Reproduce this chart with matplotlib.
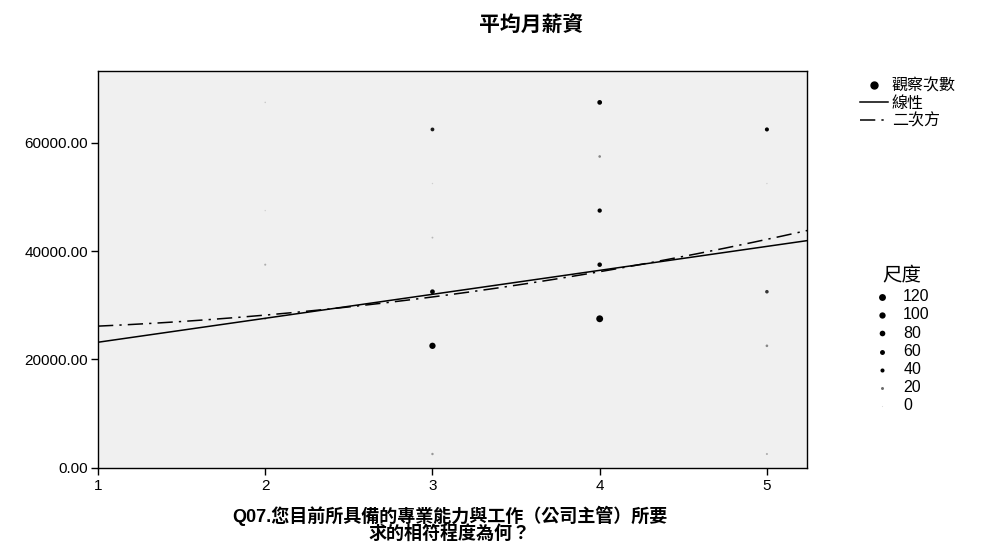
import matplotlib
matplotlib.use("Agg")
import matplotlib.pyplot as plt
import numpy as np
from matplotlib.lines import Line2D

plt.rcParams['font.family'] = ['Liberation Sans', 'Noto Sans CJK TC', 'DejaVu Sans']

# observations: (Q07 answer, salary, count)
obs_x = [2, 2, 2, 2, 3, 3, 3, 3, 3, 3, 4, 4, 4, 4, 4, 5, 5, 5, 5, 5]
obs_y = [67500, 47500, 37500, 27500, 62500, 52500, 42500, 32500, 22500, 2500,
         67500, 57500, 47500, 37500, 27500, 62500, 52500, 32500, 22500, 2500]
obs_n = [3, 2, 8, 10, 35, 2, 6, 55, 100, 12,
         55, 15, 45, 50, 120, 40, 2, 30, 15, 8]

# fitted curves (coefficients, ascending power)
lin_coef = [18730, 4430]
quad_coef = [25417, 66, 657.3]

size_levels = [120, 100, 80, 60, 40, 20, 0]


def dot_size(n):
    return 0.2 * np.asarray(n, dtype=float) + 0.6


def dot_color(n):
    g = 0.85 - 0.85 * min(1.0, n / 40.0)
    return (g, g, g)


fig = plt.figure(figsize=(9.86, 5.43), dpi=100)
ax = fig.add_axes([0.0994, 0.139, 0.7191, 0.7302])
ax.set_facecolor('#f0f0f0')

ax.scatter(obs_x, obs_y, s=dot_size(obs_n), c=[dot_color(n) for n in obs_n],
           linewidths=0, zorder=3)

xs = np.linspace(1, 5.24, 200)
ax.plot(xs, np.polyval(lin_coef[::-1], xs), color='black', lw=1.1, zorder=4)
ax.plot(xs, np.polyval(quad_coef[::-1], xs), color='black', lw=1.1,
        dashes=(10, 4, 1.5, 4), zorder=4)

ax.set_xlim(1, 5.24)
ax.set_ylim(0, 73300)
ax.set_xticks([1, 2, 3, 4, 5])
ax.set_yticks([0, 20000, 40000, 60000])
ax.yaxis.set_major_formatter(matplotlib.ticker.FuncFormatter(lambda v, p: f"{v:.2f}"))
ax.tick_params(direction='out', length=5, width=1, labelsize=11, colors='black')
ax.tick_params(axis='x', pad=3)
ax.tick_params(axis='y', pad=2)
for sp in ax.spines.values():
    sp.set_color('black')
    sp.set_linewidth(1)

fig.text(0.539, 0.956, '平均月薪資', ha='center', va='center', fontsize=15,
         fontweight='bold', family=['Noto Sans CJK TC'])
fig.text(0.456, 0.050, 'Q07.您目前所具備的專業能力與工作（公司主管）所要',
         ha='center', va='center', fontsize=13, fontweight='bold',
         family=['Liberation Sans', 'Noto Sans CJK TC'])
fig.text(0.456, 0.016, '求的相符程度為何？',
         ha='center', va='center', fontsize=13, fontweight='bold',
         family=['Liberation Sans', 'Noto Sans CJK TC'])

# legend for the fitted lines
handles = [
    Line2D([], [], marker='o', color='black', ls='none', markersize=5),
    Line2D([], [], color='black', lw=1.1),
    Line2D([], [], color='black', lw=1.1, dashes=(10, 4, 1.5, 4)),
]
fig.legend(handles, ['觀察次數', '線性', '二次方'], loc='upper left',
           bbox_to_anchor=(0.872, 0.858), frameon=False,
           handlelength=1.75, handletextpad=0.25, labelspacing=0.05,
           borderaxespad=0, borderpad=0,
           prop={'family': ['Noto Sans CJK TC'], 'size': 11.5})

# size legend
size_handles = [plt.scatter([], [], s=dot_size(n), color=dot_color(n), linewidths=0)
                for n in size_levels]
fig.legend(size_handles, [str(n) for n in size_levels], title='尺度',
           loc='upper left', bbox_to_anchor=(0.886, 0.512), frameon=False,
           fontsize=11.5, handletextpad=0.85, labelspacing=0.2,
           borderaxespad=0, borderpad=0, handlelength=1.0,
           title_fontproperties={'family': ['Noto Sans CJK TC'], 'size': 14})

fig.savefig('out.png', dpi=100)
